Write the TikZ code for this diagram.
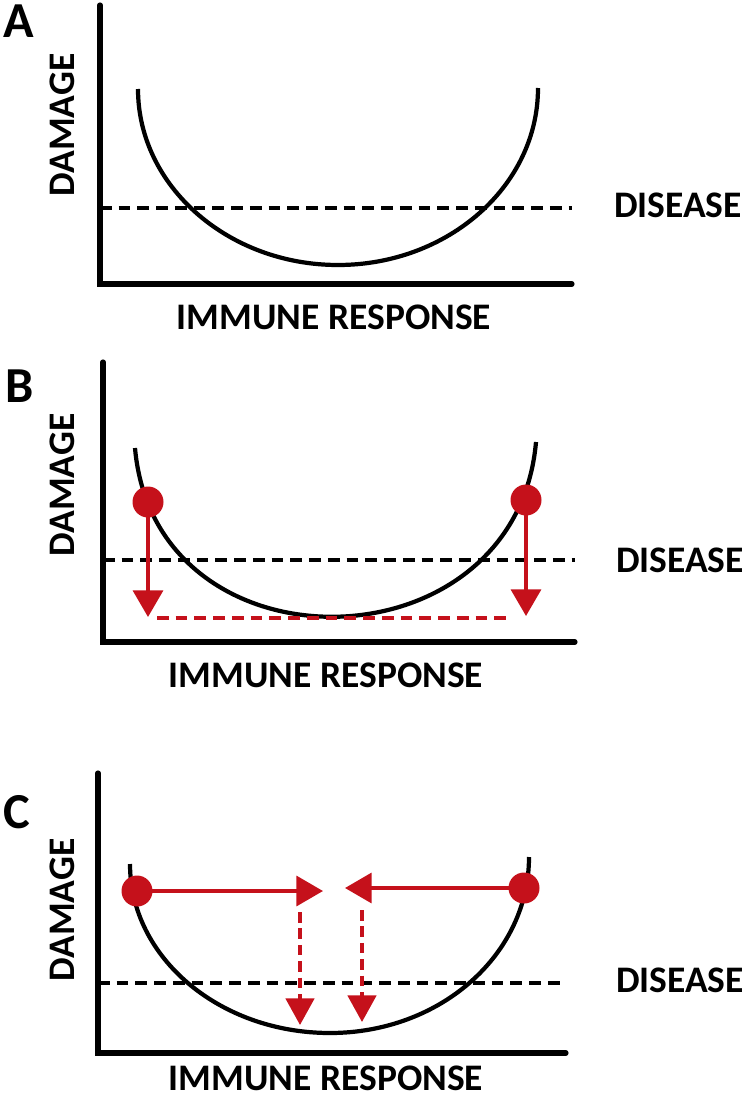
\documentclass[tikz,border=0pt]{standalone}
\usepackage{fontspec}
\setmainfont{Carlito}
\usepackage{xcolor}
\usetikzlibrary{arrows.meta, positioning}

\definecolor{immred}{RGB}{197,17,27}

\begin{document}
\begin{tikzpicture}[
    x = 0.03cm, y = -0.03cm,
    axis/.style   = {line width=4.4pt, line cap=round},
    curve/.style  = {line width=3.6pt},
    thr/.style    = {line width=3.4pt, dash pattern=on 10pt off 6pt},
    lbl/.style    = {font=\bfseries\fontsize{32}{34}\selectfont, inner sep=0pt},
    panel/.style  = {font=\bfseries\fontsize{43}{45}\selectfont, inner sep=0pt},
    dot/.style    = {circle, fill=immred, inner sep=0pt, minimum size=0.93cm},
    redarr/.style = {draw=immred, line width=3pt,
                     -{Triangle[length=0.8cm, width=0.9cm, fill=immred]}},
    reddash/.style = {draw=immred, line width=3.2pt,
                      dash pattern=on 9pt off 5pt}
  ]
  \useasboundingbox (0,0) rectangle (750,1099);

  % ---------- panel A ----------
  \node[panel] (pA) at (19,21) {A};
  \draw[axis] (100,5) -- (100,284) -- (572,284);
  \node[lbl, rotate=90] (dA) at (62,125) {DAMAGE};
  \node[lbl] (iA) at (334,317) {IMMUNE RESPONSE};
  \node[lbl] (sA) at (678,205) {DISEASE};
  \coordinate (tA0) at (100,208);
  \coordinate (tA1) at (572,208);
  \draw[thr] (tA0) -- (tA1);
  \draw[curve] (138,89) .. controls (138,186) and (228,265) .. (338,265)
                        .. controls (448,265) and (538,186) .. (538,88);

  % ---------- panel B ----------
  \node[panel] (pB) at (20,386) {B};
  \draw[axis] (103,362) -- (103,642) -- (575,642);
  \node[lbl, rotate=90] (dB) at (62,485) {DAMAGE};
  \node[lbl] (iB) at (326,675) {IMMUNE RESPONSE};
  \node[lbl] (sB) at (680,560) {DISEASE};
  \coordinate (tB0) at (103,560);
  \coordinate (tB1) at (575,560);
  \draw[thr] (tB0) -- (tB1);
  \draw[curve] (135,448) .. controls (155,677) and (516,671) .. (536,442);
  \coordinate (hB0) at (157,618);
  \coordinate (hB1) at (508,618);
  \draw[reddash, dash pattern=on 10pt off 6pt] (hB0) -- (hB1);
  \node[dot] (bL) at (148,502) {};
  \node[dot] (bR) at (526,500) {};
  \coordinate (bLend) at (148,617);
  \coordinate (bRend) at (526,616);
  \draw[redarr] (bL.center) -- (bLend);
  \draw[redarr] (bR.center) -- (bRend);

  % ---------- panel C ----------
  \node[panel] (pC) at (17,812) {C};
  \draw[axis] (98,773) -- (98,1053) -- (566,1053);
  \node[lbl, rotate=90] (dC) at (62,910) {DAMAGE};
  \node[lbl] (iC) at (326,1078) {IMMUNE RESPONSE};
  \node[lbl] (sC) at (680,980) {DISEASE};
  \coordinate (tC0) at (98,983);
  \coordinate (tC1) at (566,983);
  \draw[thr] (tC0) -- (tC1);
  \draw[curve] (130,864) .. controls (130,958) and (220,1033) .. (330,1033)
                         .. controls (440,1033) and (529,955) .. (529,857);
  \node[dot] (cL) at (137,891) {};
  \node[dot] (cR) at (524,888) {};
  \coordinate (cLend) at (323,891);
  \coordinate (cRend) at (345,888);
  \draw[redarr] (cL.center) -- (cLend);
  \draw[redarr] (cR.center) -- (cRend);
  \coordinate (vL0) at (300,912);
  \coordinate (vL1) at (300,1025);
  \coordinate (vR0) at (362,910);
  \coordinate (vR1) at (362,1022);
  \draw[reddash, -{Triangle[length=0.8cm, width=0.85cm, fill=immred]}] (vL0) -- (vL1);
  \draw[reddash, -{Triangle[length=0.8cm, width=0.85cm, fill=immred]}] (vR0) -- (vR1);
\end{tikzpicture}
\end{document}
